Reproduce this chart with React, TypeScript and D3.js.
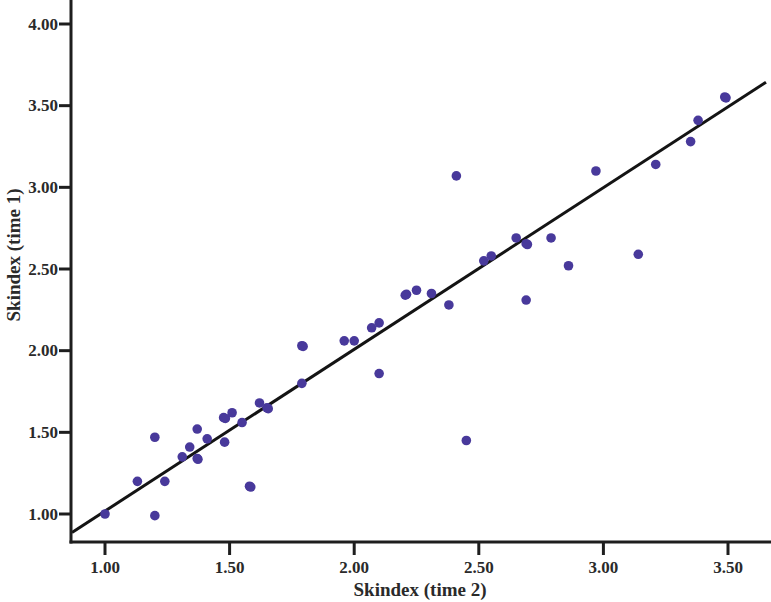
import { useEffect, useRef } from 'react';
import * as d3 from 'd3';

// Skindex time 2 (x) vs time 1 (y)
const time2 = [
  1.0, 1.2, 1.13, 1.24, 1.2, 1.31, 1.34, 1.37, 1.373, 1.37, 1.41, 1.48, 1.476,
  1.483, 1.51, 1.55, 1.58, 1.585, 1.62, 1.65, 1.655, 1.79, 1.795, 1.79, 1.96,
  2.0, 2.07, 2.1, 2.1, 2.205, 2.21, 2.25, 2.31, 2.38, 2.41, 2.45, 2.52, 2.55,
  2.65, 2.69, 2.695, 2.69, 2.79, 2.86, 2.97, 3.14, 3.21, 3.35, 3.38, 3.487,
  3.492,
];
const time1 = [
  1.0, 0.99, 1.2, 1.2, 1.47, 1.35, 1.41, 1.34, 1.335, 1.52, 1.46, 1.44, 1.59,
  1.585, 1.62, 1.56, 1.17, 1.165, 1.68, 1.65, 1.645, 2.03, 2.026, 1.8, 2.06,
  2.06, 2.14, 2.17, 1.86, 2.34, 2.345, 2.37, 2.35, 2.28, 3.07, 1.45, 2.55,
  2.58, 2.69, 2.655, 2.65, 2.31, 2.69, 2.52, 3.1, 2.59, 3.14, 3.28, 3.41,
  3.553, 3.548,
];

const xTicks = [1.0, 1.5, 2.0, 2.5, 3.0, 3.5];
const yTicks = [1.0, 1.5, 2.0, 2.5, 3.0, 3.5, 4.0];

// fit line: time1 = a + b * time2
const fitIntercept = 0.028;
const fitSlope = 0.99;

const W = 771;
const H = 602;

const ScatterPlot = () => {
  const ref = useRef<SVGSVGElement>(null);

  useEffect(() => {
    const left = 71;
    const bottom = 542;
    const font = "'Liberation Serif', 'DejaVu Serif', serif";

    const x = d3.scaleLinear().domain([1, 3.5]).range([105, 728]);
    const y = d3.scaleLinear().domain([1, 4]).range([514, 24]);

    const svg = d3.select(ref.current);
    svg.selectAll('*').remove();

    // fit line, clipped to plot area
    const x0 = x.invert(left + 1);
    const x1 = x.invert(W - 5);
    svg
      .append('line')
      .attr('x1', x(x0))
      .attr('y1', y(fitIntercept + fitSlope * x0))
      .attr('x2', x(x1))
      .attr('y2', y(fitIntercept + fitSlope * x1))
      .attr('stroke', '#141414')
      .attr('stroke-width', 3);

    svg
      .append('g')
      .selectAll('circle')
      .data(time2.map((d, i) => [d, time1[i]]))
      .join('circle')
      .attr('cx', (d) => x(d[0]))
      .attr('cy', (d) => y(d[1]))
      .attr('r', 4.8)
      .attr('fill', '#48399b');

    // axes
    const yAxis = svg.append('g').attr('transform', `translate(${left},0)`);
    yAxis
      .append('line')
      .attr('x1', 0)
      .attr('x2', 0)
      .attr('y1', 0)
      .attr('y2', bottom + 1.5)
      .attr('stroke', '#1e1e1e')
      .attr('stroke-width', 3);
    yTicks.forEach((t) => {
      yAxis
        .append('line')
        .attr('x1', -12)
        .attr('x2', 0)
        .attr('y1', y(t))
        .attr('y2', y(t))
        .attr('stroke', '#1e1e1e')
        .attr('stroke-width', 3);
      yAxis
        .append('text')
        .attr('x', -13)
        .attr('y', y(t))
        .attr('dy', '0.34em')
        .attr('text-anchor', 'end')
        .attr('font-family', font)
        .attr('font-weight', 'bold')
        .attr('font-size', 17)
        .attr('fill', '#2a2a2a')
        .text(d3.format('.2f')(t));
    });

    const xAxis = svg.append('g').attr('transform', `translate(0,${bottom})`);
    xAxis
      .append('line')
      .attr('x1', left - 1.5)
      .attr('x2', W)
      .attr('y1', 0)
      .attr('y2', 0)
      .attr('stroke', '#1e1e1e')
      .attr('stroke-width', 3);
    xTicks.forEach((t) => {
      xAxis
        .append('line')
        .attr('x1', x(t))
        .attr('x2', x(t))
        .attr('y1', 0)
        .attr('y2', 13)
        .attr('stroke', '#1e1e1e')
        .attr('stroke-width', 3);
      xAxis
        .append('text')
        .attr('x', x(t))
        .attr('y', 31)
        .attr('text-anchor', 'middle')
        .attr('font-family', font)
        .attr('font-weight', 'bold')
        .attr('font-size', 17)
        .attr('fill', '#2a2a2a')
        .text(d3.format('.2f')(t));
    });

    svg
      .append('text')
      .attr('x', 420)
      .attr('y', 596)
      .attr('text-anchor', 'middle')
      .attr('font-family', font)
      .attr('font-weight', 'bold')
      .attr('font-size', 19)
      .attr('fill', '#2a2a2a')
      .text('Skindex (time 2)');

    svg
      .append('text')
      .attr('transform', 'translate(20,255) rotate(-90)')
      .attr('text-anchor', 'middle')
      .attr('font-family', font)
      .attr('font-weight', 'bold')
      .attr('font-size', 19)
      .attr('fill', '#2a2a2a')
      .text('Skindex (time 1)');
  }, [ref]);

  return (
    <svg
      ref={ref}
      width={W}
      height={H}
      style={{ position: 'absolute', left: 0, top: 0, background: '#fff' }}
    />
  );
};

export default function App() {
  return (
    <div>
      <ScatterPlot />
    </div>
  );
}
